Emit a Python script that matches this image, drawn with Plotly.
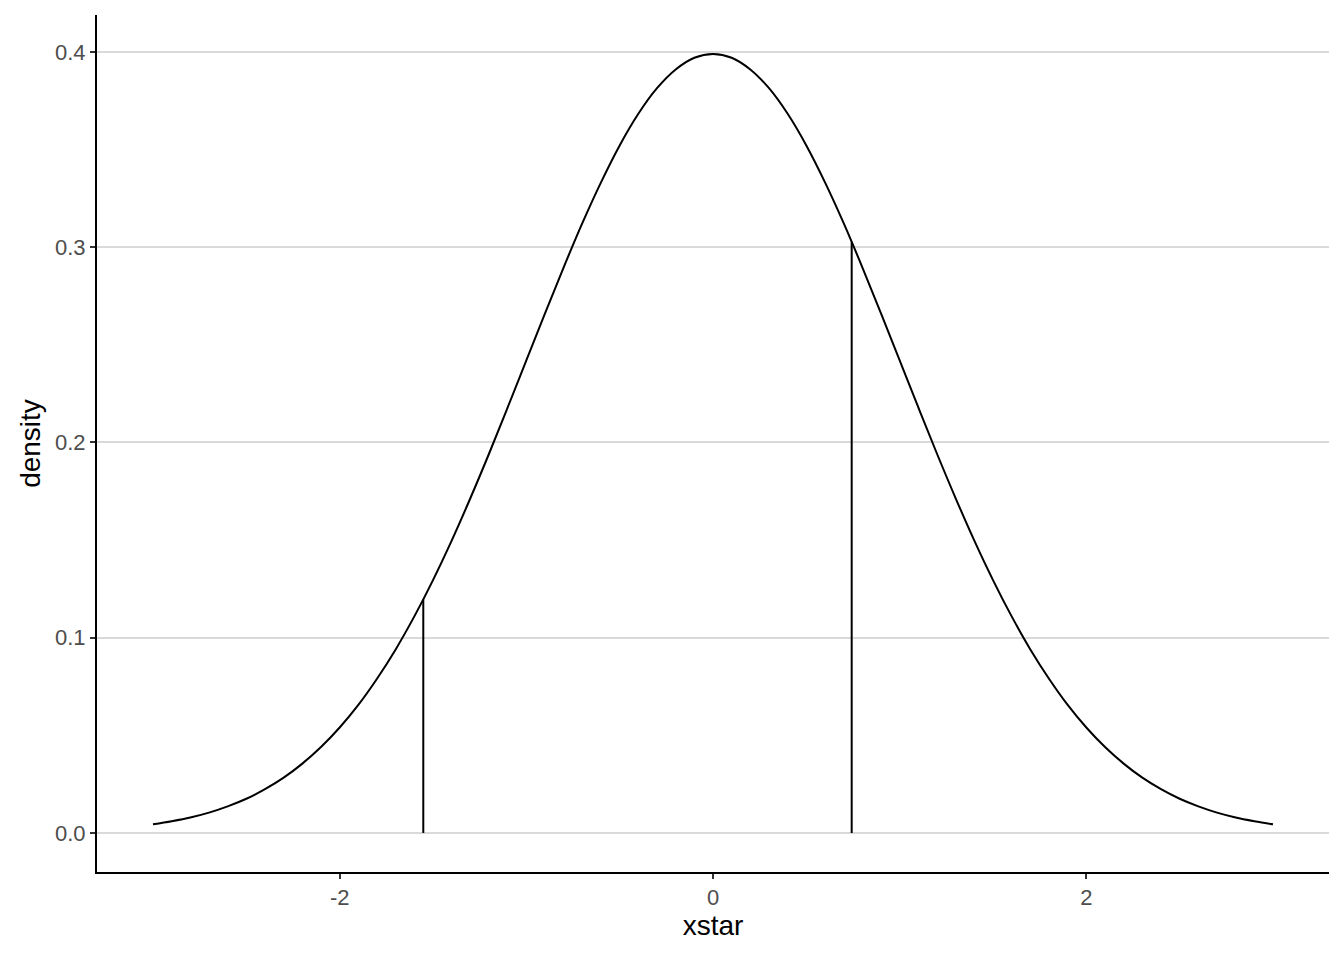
import plotly.graph_objects as go

# Values (standard-normal-shaped density curve)
xstar = [-3.0, -2.9, -2.8, -2.7, -2.6, -2.5, -2.4, -2.3, -2.2, -2.1,
         -2.0, -1.9, -1.8, -1.7, -1.6, -1.5, -1.4, -1.3, -1.2, -1.1,
         -1.0, -0.9, -0.8, -0.7, -0.6, -0.5, -0.4, -0.3, -0.2, -0.1,
         0.0, 0.1, 0.2, 0.3, 0.4, 0.5, 0.6, 0.7, 0.8, 0.9,
         1.0, 1.1, 1.2, 1.3, 1.4, 1.5, 1.6, 1.7, 1.8, 1.9,
         2.0, 2.1, 2.2, 2.3, 2.4, 2.5, 2.6, 2.7, 2.8, 2.9, 3.0]
density = [0.0044, 0.0060, 0.0079, 0.0104, 0.0136, 0.0175, 0.0224, 0.0283, 0.0355, 0.0440,
           0.0540, 0.0656, 0.0790, 0.0940, 0.1109, 0.1295, 0.1497, 0.1714, 0.1942, 0.2179,
           0.2420, 0.2661, 0.2897, 0.3123, 0.3332, 0.3521, 0.3683, 0.3814, 0.3910, 0.3970,
           0.3989, 0.3970, 0.3910, 0.3814, 0.3683, 0.3521, 0.3332, 0.3123, 0.2897, 0.2661,
           0.2420, 0.2179, 0.1942, 0.1714, 0.1497, 0.1295, 0.1109, 0.0940, 0.0790, 0.0656,
           0.0540, 0.0440, 0.0355, 0.0283, 0.0224, 0.0175, 0.0136, 0.0104, 0.0079, 0.0060, 0.0044]

# Vertical segments (x position, height)
seg_x = [-1.552, 0.743]
seg_top = [0.1195, 0.3027]

x_ticks = [-2, 0, 2]
y_ticks = [0.0, 0.1, 0.2, 0.3, 0.4]
y_tick_text = ["0.0", "0.1", "0.2", "0.3", "0.4"]

fig = go.Figure()
fig.add_trace(go.Scatter(x=xstar, y=density, mode="lines",
                         line=dict(color="black", width=2, shape="spline"),
                         showlegend=False, hoverinfo="skip"))
for sx, st in zip(seg_x, seg_top):
    fig.add_trace(go.Scatter(x=[sx, sx], y=[0, st], mode="lines",
                             line=dict(color="black", width=2),
                             showlegend=False, hoverinfo="skip"))

fig.update_layout(
    width=1344, height=960,
    margin=dict(l=97, r=15, t=15, b=88),
    plot_bgcolor="white", paper_bgcolor="white",
    font=dict(family="Liberation Sans, Arial, sans-serif"),
)
fig.update_xaxes(
    range=[-3.3, 3.3], tickvals=x_ticks, ticktext=[str(t) for t in x_ticks],
    showgrid=False, zeroline=False,
    showline=True, linecolor="black", linewidth=2,
    ticks="outside", ticklen=5, tickwidth=2, tickcolor="#333333",
    tickfont=dict(size=22, color="#4d4d4d"),
    title=dict(text="xstar", font=dict(size=28, color="black"), standoff=6),
)
fig.update_yaxes(
    range=[-0.02, 0.4189], tickvals=y_ticks, ticktext=y_tick_text,
    showgrid=True, gridcolor="#d9d9d9", gridwidth=2, zeroline=False,
    showline=True, linecolor="black", linewidth=2,
    ticks="outside", ticklen=5, tickwidth=2, tickcolor="#333333",
    tickfont=dict(size=22, color="#4d4d4d"),
    title=dict(text="density", font=dict(size=28, color="black"), standoff=6),
)

fig.write_html("out.html", config={"displayModeBar": False},
               post_script="document.body.style.margin='0';")
